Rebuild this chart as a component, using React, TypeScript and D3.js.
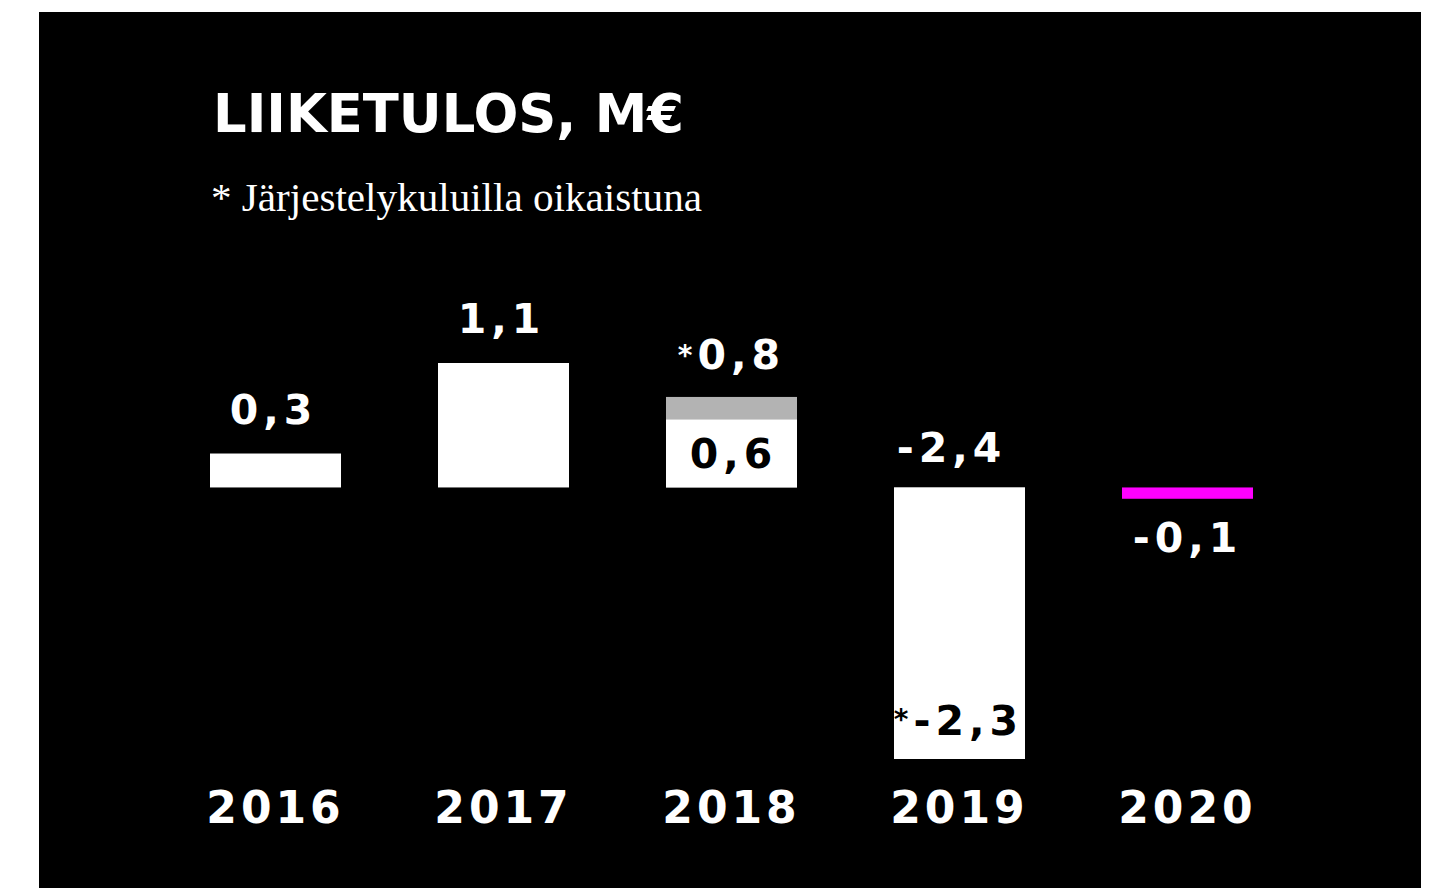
import React from "react";
import * as d3 from "d3";

const years = ["2016", "2017", "2018", "2019", "2020"];
const reported = [0.3, 1.1, 0.6, -2.4, -0.1];
const adjusted: (number | null)[] = [null, null, 0.8, -2.3, null];
const reportedLabels = ["0,3", "1,1", "0,6", "-2,4", "-0,1"];
const adjustedLabels: (string | null)[] = [null, null, "0,8", "-2,3", null];
const title = "LIIKETULOS, M€";
const subtitle = "* Järjestelykuluilla oikaistuna";

const W = 1434;
const H = 888;
const SANS = "'DejaVu Sans', sans-serif";

export default function App() {
  const x = d3.scaleBand<string>().domain(years).range([210, 1253]).paddingInner(0.4254).paddingOuter(0);
  const y = d3.scaleLinear().domain([-2.4, 1.1]).range([759, 363]);
  const y0 = y(0);
  const bw = x.bandwidth();
  const lastIdx = years.length - 1;

  const barColor = (i: number) => (i === lastIdx ? "#ff00ff" : "#ffffff");

  return (
    <svg width={W} height={H} style={{ position: "absolute", left: 0, top: 0, background: "#fff" }}>
      <rect x={39} y={12} width={1382} height={876} fill="#000" />
      <text x={213} y={132} fill="#fff" fontFamily={SANS} fontWeight={700} fontSize={53} textLength={471} lengthAdjust="spacingAndGlyphs">
        {title}
      </text>
      <text x={211} y={211} fill="#fff" fontFamily="'Liberation Serif', serif" fontSize={40} textLength={491} lengthAdjust="spacingAndGlyphs">
        {subtitle}
      </text>

      {/* adjusted bars (gray) */}
      {years.map((yr, i) => {
        const a = adjusted[i];
        if (a === null) return null;
        return (
          <rect key={"a" + yr} x={x(yr)} width={bw} y={Math.min(y(a), y0)} height={Math.abs(y(a) - y0)} fill="#b3b3b3" />
        );
      })}
      {/* reported bars */}
      {years.map((yr, i) => {
        const v = reported[i];
        const top = Math.min(y(v), y0);
        const h = Math.abs(y(v) - y0);
        return <rect key={"r" + yr} x={x(yr)} width={bw} y={top} height={h} fill={barColor(i)} />;
      })}

      {/* labels */}
      {years.map((yr, i) => {
        const v = reported[i];
        const a = adjusted[i];
        const cx = (x(yr) as number) + bw / 2;
        const els: React.ReactNode[] = [];
        const common = { fontFamily: SANS, fontWeight: 700, fontSize: 41, textAnchor: "middle" as const, letterSpacing: 5 };
        if (a !== null && a >= 0) {
          els.push(
            <text key="al" x={cx + 8} y={y(a) - 28} fill="#fff" {...common}>
              <tspan fontSize={28} dx={-8} dy={-4}>*</tspan>
              <tspan dy={4}>{adjustedLabels[i]}</tspan>
            </text>
          );
          els.push(
            <text key="rl" x={cx + 2} y={y0 - 19} fill="#000" {...common}>
              {reportedLabels[i]}
            </text>
          );
        } else if (a !== null && a < 0) {
          els.push(
            <text key="rl" x={cx - 8} y={y0 - 25} fill="#fff" {...common}>
              {reportedLabels[i]}
            </text>
          );
          els.push(
            <text key="al" x={cx - 1} y={y(v) - 24} fill="#000" {...common}>
              <tspan fontSize={28} dy={-6}>*</tspan>
              <tspan dy={6}>{adjustedLabels[i]}</tspan>
            </text>
          );
        } else if (v >= 0) {
          els.push(
            <text key="rl" x={cx - 2} y={y(v) - 30} fill="#fff" {...common}>
              {reportedLabels[i]}
            </text>
          );
        } else {
          els.push(
            <text key="rl" x={cx} y={y(v) + 53} fill="#fff" {...common}>
              {reportedLabels[i]}
            </text>
          );
        }
        return <g key={"l" + yr}>{els}</g>;
      })}

      {/* year axis labels */}
      {years.map((yr) => (
        <text key={"y" + yr} x={(x(yr) as number) + bw / 2} y={823} fill="#fff" fontFamily={SANS} fontWeight={700} fontSize={44} textAnchor="middle" letterSpacing={4}>
          {yr}
        </text>
      ))}
    </svg>
  );
}
